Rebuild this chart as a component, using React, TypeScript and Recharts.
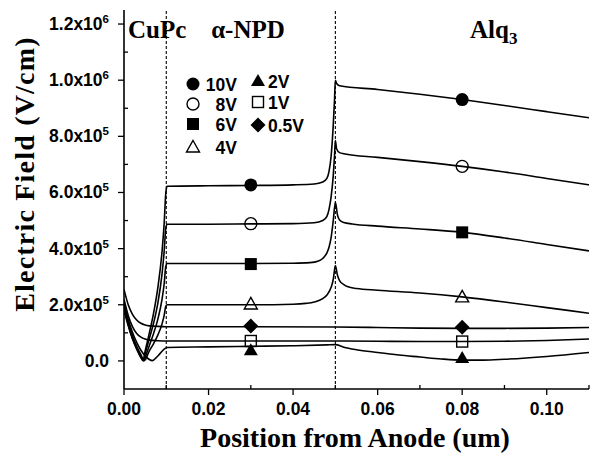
import React from 'react';
import { ComposedChart, Line, Scatter, XAxis, YAxis, ReferenceLine } from 'recharts';

const xTicks = [0, 0.01, 0.02, 0.03, 0.04, 0.05, 0.06, 0.07, 0.08, 0.09, 0.1, 0.11];
const yTicks = [0, 1e5, 2e5, 3e5, 4e5, 5e5, 6e5, 7e5, 8e5, 9e5, 1e6, 1.1e6, 1.2e6];
const layerBounds = [0.01, 0.05];

const field10V = [
  { x: 0, y: 1.8e5 }, { x: 0.001, y: 1.25e5 }, { x: 0.002, y: 0.78e5 }, { x: 0.003, y: 0.42e5 },
  { x: 0.004, y: 0.12e5 }, { x: 0.0045, y: 0.01e5 }, { x: 0.005, y: 0.35e5 }, { x: 0.006, y: 1.0e5 },
  { x: 0.007, y: 1.7e5 }, { x: 0.008, y: 2.6e5 }, { x: 0.009, y: 3.9e5 }, { x: 0.0095, y: 4.9e5 },
  { x: 0.0099, y: 6.0e5 }, { x: 0.0102, y: 6.22e5 }, { x: 0.02, y: 6.24e5 }, { x: 0.03, y: 6.25e5 },
  { x: 0.04, y: 6.27e5 }, { x: 0.045, y: 6.3e5 }, { x: 0.047, y: 6.37e5 }, { x: 0.048, y: 6.5e5 },
  { x: 0.0485, y: 6.75e5 }, { x: 0.049, y: 7.3e5 }, { x: 0.0495, y: 8.4e5 }, { x: 0.0498, y: 9.3e5 },
  { x: 0.05, y: 1.0e6 }, { x: 0.0503, y: 9.88e5 }, { x: 0.051, y: 9.8e5 }, { x: 0.06, y: 9.67e5 },
  { x: 0.07, y: 9.5e5 }, { x: 0.08, y: 9.31e5 }, { x: 0.09, y: 9.1e5 }, { x: 0.1, y: 8.88e5 },
  { x: 0.11, y: 8.66e5 },
];
const field8V = [
  { x: 0, y: 1.85e5 }, { x: 0.001, y: 1.3e5 }, { x: 0.002, y: 0.82e5 }, { x: 0.003, y: 0.45e5 },
  { x: 0.004, y: 0.14e5 }, { x: 0.0046, y: 0.01e5 }, { x: 0.005, y: 0.25e5 }, { x: 0.006, y: 0.8e5 },
  { x: 0.007, y: 1.35e5 }, { x: 0.008, y: 2.05e5 }, { x: 0.009, y: 3.1e5 }, { x: 0.0095, y: 3.9e5 },
  { x: 0.0099, y: 4.75e5 }, { x: 0.0102, y: 4.87e5 }, { x: 0.02, y: 4.87e5 }, { x: 0.03, y: 4.88e5 },
  { x: 0.04, y: 4.89e5 }, { x: 0.045, y: 4.92e5 }, { x: 0.047, y: 5.0e5 }, { x: 0.048, y: 5.15e5 },
  { x: 0.0485, y: 5.4e5 }, { x: 0.049, y: 5.85e5 }, { x: 0.0495, y: 6.6e5 }, { x: 0.0498, y: 7.3e5 },
  { x: 0.05, y: 7.85e5 }, { x: 0.0503, y: 7.55e5 }, { x: 0.051, y: 7.42e5 }, { x: 0.052, y: 7.38e5 },
  { x: 0.06, y: 7.25e5 }, { x: 0.07, y: 7.1e5 }, { x: 0.08, y: 6.93e5 }, { x: 0.09, y: 6.73e5 },
  { x: 0.1, y: 6.5e5 }, { x: 0.11, y: 6.27e5 },
];
const field6V = [
  { x: 0, y: 1.9e5 }, { x: 0.001, y: 1.33e5 }, { x: 0.002, y: 0.86e5 }, { x: 0.003, y: 0.48e5 },
  { x: 0.004, y: 0.17e5 }, { x: 0.0047, y: 0.01e5 }, { x: 0.005, y: 0.12e5 }, { x: 0.006, y: 0.55e5 },
  { x: 0.007, y: 0.98e5 }, { x: 0.008, y: 1.48e5 }, { x: 0.009, y: 2.2e5 }, { x: 0.0095, y: 2.75e5 },
  { x: 0.0099, y: 3.38e5 }, { x: 0.0102, y: 3.47e5 }, { x: 0.02, y: 3.47e5 }, { x: 0.03, y: 3.47e5 },
  { x: 0.04, y: 3.48e5 }, { x: 0.044, y: 3.5e5 }, { x: 0.046, y: 3.56e5 }, { x: 0.047, y: 3.65e5 },
  { x: 0.048, y: 3.85e5 }, { x: 0.0485, y: 4.05e5 }, { x: 0.049, y: 4.4e5 }, { x: 0.0495, y: 5.0e5 },
  { x: 0.05, y: 5.65e5 }, { x: 0.0505, y: 5.2e5 }, { x: 0.051, y: 5.02e5 }, { x: 0.052, y: 4.93e5 },
  { x: 0.054, y: 4.88e5 }, { x: 0.06, y: 4.8e5 }, { x: 0.07, y: 4.7e5 }, { x: 0.08, y: 4.58e5 },
  { x: 0.09, y: 4.38e5 }, { x: 0.1, y: 4.15e5 }, { x: 0.11, y: 3.92e5 },
];
const field4V = [
  { x: 0, y: 1.95e5 }, { x: 0.001, y: 1.38e5 }, { x: 0.002, y: 0.9e5 }, { x: 0.003, y: 0.52e5 },
  { x: 0.004, y: 0.22e5 }, { x: 0.0048, y: 0.01e5 }, { x: 0.006, y: 0.36e5 }, { x: 0.007, y: 0.62e5 },
  { x: 0.008, y: 0.92e5 }, { x: 0.009, y: 1.32e5 }, { x: 0.0095, y: 1.62e5 }, { x: 0.0099, y: 1.95e5 },
  { x: 0.0102, y: 2.0e5 }, { x: 0.02, y: 2.0e5 }, { x: 0.03, y: 2.0e5 }, { x: 0.04, y: 2.02e5 },
  { x: 0.043, y: 2.05e5 }, { x: 0.045, y: 2.1e5 }, { x: 0.047, y: 2.22e5 }, { x: 0.048, y: 2.35e5 },
  { x: 0.049, y: 2.62e5 }, { x: 0.0495, y: 2.9e5 }, { x: 0.05, y: 3.4e5 }, { x: 0.0505, y: 3.05e5 },
  { x: 0.051, y: 2.86e5 }, { x: 0.052, y: 2.72e5 }, { x: 0.053, y: 2.64e5 }, { x: 0.055, y: 2.58e5 },
  { x: 0.06, y: 2.52e5 }, { x: 0.07, y: 2.42e5 }, { x: 0.08, y: 2.28e5 }, { x: 0.09, y: 2.1e5 },
  { x: 0.1, y: 1.9e5 }, { x: 0.11, y: 1.7e5 },
];
const field2V = [
  { x: 0, y: 2.05e5 }, { x: 0.001, y: 1.48e5 }, { x: 0.002, y: 1.02e5 }, { x: 0.003, y: 0.66e5 },
  { x: 0.004, y: 0.38e5 }, { x: 0.005, y: 0.18e5 }, { x: 0.006, y: 0.05e5 }, { x: 0.0067, y: 0.01e5 },
  { x: 0.0075, y: 0.1e5 }, { x: 0.0085, y: 0.26e5 }, { x: 0.0095, y: 0.42e5 }, { x: 0.0102, y: 0.48e5 },
  { x: 0.02, y: 0.5e5 }, { x: 0.03, y: 0.52e5 }, { x: 0.04, y: 0.54e5 }, { x: 0.048, y: 0.57e5 },
  { x: 0.05, y: 0.58e5 }, { x: 0.052, y: 0.49e5 }, { x: 0.055, y: 0.4e5 }, { x: 0.06, y: 0.3e5 },
  { x: 0.065, y: 0.21e5 }, { x: 0.07, y: 0.14e5 }, { x: 0.075, y: 0.07e5 }, { x: 0.08, y: 0.03e5 },
  { x: 0.085, y: 0.03e5 }, { x: 0.09, y: 0.06e5 }, { x: 0.1, y: 0.16e5 }, { x: 0.11, y: 0.3e5 },
];
const field1V = [
  { x: 0, y: 2.2e5 }, { x: 0.001, y: 1.62e5 }, { x: 0.002, y: 1.22e5 }, { x: 0.003, y: 0.98e5 },
  { x: 0.004, y: 0.85e5 }, { x: 0.005, y: 0.78e5 }, { x: 0.006, y: 0.74e5 }, { x: 0.008, y: 0.72e5 },
  { x: 0.01, y: 0.71e5 }, { x: 0.03, y: 0.71e5 }, { x: 0.05, y: 0.71e5 }, { x: 0.06, y: 0.7e5 },
  { x: 0.07, y: 0.69e5 }, { x: 0.08, y: 0.69e5 }, { x: 0.09, y: 0.7e5 }, { x: 0.1, y: 0.73e5 },
  { x: 0.11, y: 0.78e5 },
];
const field05V = [
  { x: 0, y: 2.55e5 }, { x: 0.001, y: 2.0e5 }, { x: 0.002, y: 1.66e5 }, { x: 0.003, y: 1.46e5 },
  { x: 0.004, y: 1.34e5 }, { x: 0.005, y: 1.28e5 }, { x: 0.006, y: 1.25e5 }, { x: 0.008, y: 1.23e5 },
  { x: 0.01, y: 1.22e5 }, { x: 0.03, y: 1.22e5 }, { x: 0.05, y: 1.21e5 }, { x: 0.06, y: 1.19e5 },
  { x: 0.07, y: 1.17e5 }, { x: 0.08, y: 1.16e5 }, { x: 0.09, y: 1.16e5 }, { x: 0.1, y: 1.17e5 },
  { x: 0.11, y: 1.19e5 },
];

const markers10V = [{ x: 0.03, y: 6.27e5 }, { x: 0.08, y: 9.31e5 }];
const markers8V = [{ x: 0.03, y: 4.89e5 }, { x: 0.08, y: 6.93e5 }];
const markers6V = [{ x: 0.03, y: 3.45e5 }, { x: 0.08, y: 4.58e5 }];
const markers4V = [{ x: 0.03, y: 2.03e5 }, { x: 0.08, y: 2.28e5 }];
const markers2V = [{ x: 0.03, y: 0.38e5 }, { x: 0.08, y: 0.1e5 }];
const markers1V = [{ x: 0.03, y: 0.71e5 }, { x: 0.08, y: 0.69e5 }];
const markers05V = [{ x: 0.03, y: 1.24e5 }, { x: 0.08, y: 1.2e5 }];

const seriesLabels = ['10V', '8V', '6V', '4V', '2V', '1V', '0.5V'];

const SANS = '"Liberation Sans", Arial, sans-serif';
const SERIF = '"Liberation Serif", "Times New Roman", serif';

type Kind = 'circleF' | 'circleO' | 'squareF' | 'squareO' | 'triF' | 'triO' | 'diamondF';

function Symbol({ cx, cy, kind, s = 1 }: { cx: number; cy: number; kind: Kind; s?: number }) {
  const sw = 1.4;
  switch (kind) {
    case 'circleF':
      return <circle cx={cx} cy={cy} r={6.5 * s} fill="#000" />;
    case 'circleO':
      return <circle cx={cx} cy={cy} r={6 * s} fill="none" stroke="#000" strokeWidth={sw} />;
    case 'squareF':
      return <rect x={cx - 6 * s} y={cy - 6 * s} width={12 * s} height={12 * s} fill="#000" />;
    case 'squareO':
      return <rect x={cx - 5.5 * s} y={cy - 5.5 * s} width={11 * s} height={11 * s} fill="none" stroke="#000" strokeWidth={sw} />;
    case 'triF':
      return <polygon points={`${cx},${cy - 7 * s} ${cx + 7 * s},${cy + 5 * s} ${cx - 7 * s},${cy + 5 * s}`} fill="#000" />;
    case 'triO':
      return <polygon points={`${cx},${cy - 6.5 * s} ${cx + 6.5 * s},${cy + 5 * s} ${cx - 6.5 * s},${cy + 5 * s}`} fill="none" stroke="#000" strokeWidth={sw} />;
    case 'diamondF':
    default:
      return <polygon points={`${cx},${cy - 7.5 * s} ${cx + 7.5 * s},${cy} ${cx},${cy + 7.5 * s} ${cx - 7.5 * s},${cy}`} fill="#000" />;
  }
}

const shapeOf = (kind: Kind) => (props: any) => <Symbol cx={props.cx} cy={props.cy} kind={kind} />;

function XTick(props: any) {
  const { x, y, payload } = props;
  const v = payload.value as number;
  const major = Math.round(v * 100) % 2 === 0;
  return (
    <g>
      <line x1={x} x2={x} y1={y} y2={major ? y + 6 : y - 4} stroke="#000" strokeWidth={1.3} />
      {major && (
        <text x={x} y={y + 26} textAnchor="middle" fontFamily={SANS} fontWeight="bold" fontSize={17.5} fill="#000">
          {v.toFixed(2)}
        </text>
      )}
    </g>
  );
}

function YTick(props: any) {
  const { x, y, payload } = props;
  const v = payload.value as number;
  const major = Math.round(v / 1e5) % 2 === 0;
  let label: React.ReactNode = null;
  if (major) {
    if (v === 0) {
      label = '0.0';
    } else {
      const e = Math.floor(Math.log10(v) + 1e-9);
      const m = v / Math.pow(10, e);
      label = (
        <>
          {m.toFixed(1) + 'x10'}
          <tspan fontSize={11.5} dy={-7}>{String(e)}</tspan>
        </>
      );
    }
  }
  return (
    <g>
      <line x1={x} x2={major ? x - 6 : x + 4} y1={y} y2={y} stroke="#000" strokeWidth={1.3} />
      {major && (
        <text x={x - 15} y={y + 6} textAnchor="end" fontFamily={SANS} fontWeight="bold" fontSize={17.5} fill="#000">
          {label}
        </text>
      )}
    </g>
  );
}

const lineProps = {
  type: 'monotone' as const,
  dataKey: 'y',
  stroke: '#000',
  strokeWidth: 1.6,
  dot: false,
  activeDot: false,
  isAnimationActive: false,
};

export default function App() {
  const legendCol1: [Kind, string, number][] = [
    ['circleF', seriesLabels[0], 84],
    ['circleO', seriesLabels[1], 104],
    ['squareF', seriesLabels[2], 124],
    ['triO', seriesLabels[3], 147],
  ];
  const legendCol2: [Kind, string, number][] = [
    ['triF', seriesLabels[4], 81],
    ['squareO', seriesLabels[5], 102],
    ['diamondF', seriesLabels[6], 125],
  ];
  return (
    <div style={{ position: 'absolute', left: 0, top: 0, width: 593, height: 457, background: '#fff' }}>
      <ComposedChart width={593} height={457} margin={{ top: 10, right: 4, left: 0, bottom: 0 }}>
        <XAxis
          xAxisId={0}
          dataKey="x"
          type="number"
          domain={[0, 0.11]}
          ticks={xTicks}
          allowDataOverflow
          height={68}
          tickSize={0}
          tickMargin={0}
          tickLine={false}
          axisLine={{ stroke: '#000', strokeWidth: 1.6 }}
          tick={<XTick />}
          interval={0}
        />
        <XAxis
          xAxisId="top"
          orientation="top"
          type="number"
          domain={[0, 0.11]}
          height={0}
          tick={false}
          tickLine={false}
          axisLine={{ stroke: '#000', strokeWidth: 1.6 }}
        />
        <YAxis
          yAxisId={0}
          type="number"
          domain={[-1e5, 1.25e6]}
          ticks={yTicks}
          allowDataOverflow
          width={124}
          tickSize={0}
          tickMargin={0}
          tickLine={false}
          axisLine={{ stroke: '#000', strokeWidth: 1.6 }}
          tick={<YTick />}
          interval={0}
        />
        <YAxis
          yAxisId="right"
          orientation="right"
          type="number"
          domain={[-1e5, 1.25e6]}
          width={0}
          tick={false}
          tickLine={false}
          axisLine={{ stroke: '#000', strokeWidth: 1.6 }}
        />
        {layerBounds.map((b) => (
          <ReferenceLine key={b} x={b} stroke="#000" strokeWidth={1.1} strokeDasharray="3 2" />
        ))}
        <Line data={field10V} {...lineProps} />
        <Line data={field8V} {...lineProps} />
        <Line data={field6V} {...lineProps} />
        <Line data={field4V} {...lineProps} />
        <Line data={field2V} {...lineProps} />
        <Line data={field1V} {...lineProps} />
        <Line data={field05V} {...lineProps} />
        <Scatter data={markers10V} dataKey="y" shape={shapeOf('circleF')} isAnimationActive={false} />
        <Scatter data={markers8V} dataKey="y" shape={shapeOf('circleO')} isAnimationActive={false} />
        <Scatter data={markers6V} dataKey="y" shape={shapeOf('squareF')} isAnimationActive={false} />
        <Scatter data={markers4V} dataKey="y" shape={shapeOf('triO')} isAnimationActive={false} />
        <Scatter data={markers2V} dataKey="y" shape={shapeOf('triF')} isAnimationActive={false} />
        <Scatter data={markers1V} dataKey="y" shape={shapeOf('squareO')} isAnimationActive={false} />
        <Scatter data={markers05V} dataKey="y" shape={shapeOf('diamondF')} isAnimationActive={false} />
      </ComposedChart>
      <svg width={593} height={457} style={{ position: 'absolute', left: 0, top: 0, pointerEvents: 'none' }}>
        <text x={128} y={38} fontFamily={SERIF} fontWeight="bold" fontSize={25} fill="#000">CuPc</text>
        <text x={248} y={38} textAnchor="middle" fontFamily={SERIF} fontWeight="bold" fontSize={25} fill="#000">α-NPD</text>
        <text x={470} y={38} fontFamily={SERIF} fontWeight="bold" fontSize={25} fill="#000">
          Alq<tspan fontSize={17} dy={6}>3</tspan>
        </text>
        {legendCol1.map(([k, t, y]) => (
          <g key={t}>
            <Symbol cx={193} cy={y} kind={k} />
            <text x={237} y={y + 6.5} textAnchor="end" fontFamily={SANS} fontWeight="bold" fontSize={17.5} fill="#000">{t}</text>
          </g>
        ))}
        {legendCol2.map(([k, t, y]) => (
          <g key={t}>
            <Symbol cx={258} cy={y} kind={k} />
            <text x={268} y={y + 6.5} fontFamily={SANS} fontWeight="bold" fontSize={17.5} fill="#000">{t}</text>
          </g>
        ))}
        <text
          x={0}
          y={0}
          transform="translate(34,174) rotate(-90)"
          textAnchor="middle"
          fontFamily={SERIF}
          fontWeight="bold"
          fontSize={28}
          letterSpacing={1.2}
          fill="#000"
        >
          Electric Field (V/cm)
        </text>
        <text x={355} y={447} textAnchor="middle" fontFamily={SERIF} fontWeight="bold" fontSize={28} fill="#000">
          Position from Anode (um)
        </text>
      </svg>
    </div>
  );
}
